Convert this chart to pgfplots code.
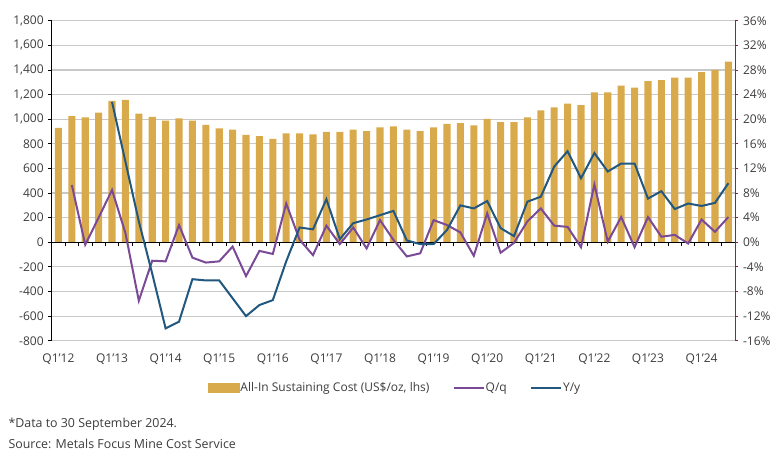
\documentclass[border=0pt]{standalone}
\usepackage{fontspec}
\setmainfont{Open Sans}
\usepackage{pgfplots}
\usepackage{pgfplotstable}
\pgfplotsset{compat=1.18}

\definecolor{gold}{RGB}{217,170,76}
\definecolor{qqpurple}{RGB}{122,74,150}
\definecolor{yyblue}{RGB}{34,88,128}
\definecolor{gridgray}{RGB}{200,200,200}
\definecolor{labelgray}{RGB}{60,60,60}
\definecolor{rhsred}{RGB}{139,38,62}

\pgfplotsset{
  lineleg/.style={legend image code/.code={\draw[##1] (0pt,0pt) -- (22.5pt,0pt);}},
  barleg/.style={legend image code/.code={\fill[gold] (0pt,-3.2pt) rectangle (23pt,3.6pt);}},
}

% x = quarter index (0 = Q1'12), aisc in US$/oz, qq and yy in %
\pgfplotstableread{
x aisc qq yy
0 930 nan nan
1 1025 9.3 nan
2 1015 -0.4 nan
3 1053 4.0 nan
4 1148 8.5 22.8
5 1156 1.5 13.1
6 1045 -9.5 3.4
7 1018 -3.0 -5.1
8 988 -3.1 -14.0
9 1007 2.8 -12.9
10 988 -2.5 -6.0
11 953 -3.3 -6.2
12 926 -3.1 -6.2
13 915 -0.7 -9.1
14 872 -5.5 -12.0
15 862 -1.4 -10.2
16 840 -1.9 -9.4
17 885 6.3 -3.1
18 885 0.4 2.4
19 877 -2.1 2.1
20 896 2.7 7.0
21 896 -0.3 0.5
22 915 2.4 3.1
23 904 -1.0 3.7
24 934 3.6 4.4
25 942 0.4 5.1
26 915 -2.3 0.3
27 904 -1.8 -0.3
28 934 3.6 -0.3
29 961 2.8 2.0
30 969 1.6 6.0
31 950 -2.2 5.5
32 1002 4.7 6.7
33 977 -1.7 2.3
34 977 -0.1 1.0
35 1015 3.4 6.6
36 1072 5.5 7.4
37 1096 2.7 12.3
38 1126 2.5 14.8
39 1115 -0.8 10.4
40 1218 9.4 14.5
41 1218 0.1 11.5
42 1272 4.1 12.8
43 1256 -0.8 12.8
44 1310 4.1 7.1
45 1318 0.9 8.3
46 1337 1.2 5.4
47 1337 -0.2 6.3
48 1383 3.7 5.9
49 1400 1.7 6.4
50 1467 4.1 9.6
}\data

\newcommand{\lblfont}{\fontsize{9}{11}\selectfont}
\newcommand{\notefont}{\fontsize{9.3}{11}\selectfont}

\begin{document}
\begin{tikzpicture}
\path[use as bounding box] (0pt,0pt) rectangle (586.5pt,339.75pt);

% left axis: bars
\begin{axis}[
  at={(38.8pt,84.2pt)}, anchor=south west,
  width=512.5pt, height=240pt, scale only axis,
  xmin=-0.5, xmax=50.5,
  ymin=-800, ymax=1800,
  axis y line*=left,
  axis x line*=bottom,
  x axis line style={draw=none},
  y axis line style={black, line width=0.8pt},
  xtick={0,4,...,48},
  xticklabels={Q1’12,Q1’13,Q1’14,Q1’15,Q1’16,Q1’17,Q1’18,Q1’19,Q1’20,Q1’21,Q1’22,Q1’23,Q1’24},
  major x tick style={draw=none},
  xticklabel style={yshift=-4pt},
  ytick={-800,-600,...,1800},
  yticklabels={-800,-600,-400,-200,0,200,400,600,800,{1,000},{1,200},{1,400},{1,600},{1,800}},
  ytick style={black, line width=0.6pt},
  tick align=outside,
  major tick length=2.5pt,
  ymajorgrids,
  grid style={gridgray, line width=0.9pt},
  ticklabel style={font=\lblfont, text=labelgray},
]
\addplot[ybar, bar width=5.3pt, fill=gold, draw=none] table[x=x, y=aisc] {\data};
\end{axis}

% right axis: percentage lines
\begin{axis}[
  at={(38.8pt,84.2pt)}, anchor=south west,
  width=512.5pt, height=240pt, scale only axis,
  xmin=-0.5, xmax=50.5,
  ymin=-16, ymax=36,
  axis y line*=right,
  axis x line*=middle,
  x axis line style={black, line width=0.8pt},
  y axis line style={rhsred, line width=0.8pt},
  xtick={0.5,1.5,...,49.5},
  xticklabels={},
  x tick style={black, line width=0.6pt},
  ytick={-16,-12,...,36},
  yticklabels={-16\%,-12\%,-8\%,-4\%,0\%,4\%,8\%,12\%,16\%,20\%,24\%,28\%,32\%,36\%},
  y tick style={rhsred, line width=0.6pt},
  tick align=outside,
  major tick length=2.5pt,
  ticklabel style={font=\lblfont, text=labelgray},
  legend columns=3,
  legend style={at={(0.502,-0.148)}, anchor=center, draw=none, fill=none,
    font=\lblfont, text=labelgray, inner sep=0pt,
    nodes={inner sep=0.6pt},
    /tikz/every even column/.append style={column sep=17pt}},
]
\addlegendimage{barleg}
\addlegendentry{All-In Sustaining Cost (US\$/oz, lhs)}
\addplot[qqpurple, line width=1.5pt, lineleg] table[x=x, y=qq] {\data};
\addlegendentry{Q/q}
\addplot[yyblue, line width=1.5pt, lineleg] table[x=x, y=yy] {\data};
\addlegendentry{Y/y}
\end{axis}

\node[anchor=west, inner sep=0pt, font=\notefont, text=labelgray] at (6.2pt,21.75pt) {*Data to 30 September 2024.};
\node[anchor=west, inner sep=0pt, font=\notefont, text=labelgray] at (6.2pt,6.75pt) {Source: Metals Focus Mine Cost Service};
\end{tikzpicture}
\end{document}
